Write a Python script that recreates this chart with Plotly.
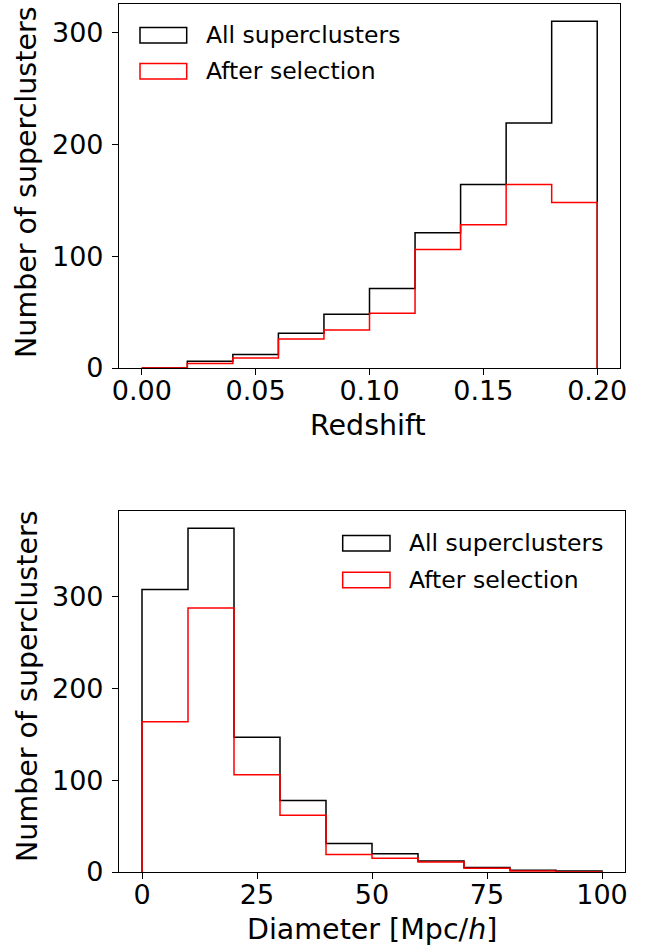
import plotly.graph_objects as go

# ---------------- data ----------------
z_edges = [0.00, 0.02, 0.04, 0.06, 0.08, 0.10, 0.12, 0.14, 0.16, 0.18, 0.20]
z_all = [0, 6, 12, 31, 48, 71, 121, 164, 219, 310]
z_sel = [0, 4, 9, 26, 34, 49, 106, 128, 164, 148]

d_edges = [0, 10, 20, 30, 40, 50, 60, 70, 80, 90, 100]
d_all = [308, 375, 147, 78, 31, 20, 12, 5, 2, 1]
d_sel = [164, 288, 106, 62, 19, 15, 11, 4, 1, 0]

z_ticks = [0.00, 0.05, 0.10, 0.15, 0.20]
d_ticks = [0, 25, 50, 75, 100]
y_ticks = [0, 100, 200, 300]

series_names = ["All superclusters", "After selection"]
series_colors = ["#000000", "#ff0000"]

W, H = 651, 952
FONT = "DejaVu Sans"


def px(x):
    return x / W


def py(y):
    return 1 - y / H


def step_xy(edges, counts):
    xs = [edges[0]] + list(edges) + [edges[-1]]
    ys = [0] + list(counts) + [counts[-1], 0]
    return xs, ys


fig = go.Figure()

panels = [
    ("x", "y", z_edges, [z_all, z_sel]),
    ("x2", "y2", d_edges, [d_all, d_sel]),
]
for xa, ya, edges, sets in panels:
    for counts, name, col in zip(sets, series_names, series_colors):
        xs, ys = step_xy(edges, counts)
        fig.add_trace(go.Scatter(
            x=xs, y=ys, mode="lines", line=dict(color=col, width=1.5, shape="hv"),
            name=name, showlegend=False, xaxis=xa, yaxis=ya, hoverinfo="skip"))

axis_common = dict(
    showline=True, linecolor="black", linewidth=1.2, mirror=True,
    ticks="outside", ticklen=6, tickwidth=1.2, tickcolor="black",
    showgrid=False, zeroline=False, automargin=False,
    tickfont=dict(family=FONT, size=27, color="black"),
)

top_max = max(z_all) * 1.05
bot_max = max(d_all) * 1.05

fig.update_layout(
    width=W, height=H,
    margin=dict(l=0, r=0, t=0, b=0, autoexpand=False),
    paper_bgcolor="white", plot_bgcolor="white",
    showlegend=False,
    xaxis=dict(domain=[px(119), px(620)], range=[-0.01, 0.21],
               tickvals=z_ticks, ticktext=[f"{v:.2f}" for v in z_ticks],
               anchor="y", ticklabelstandoff=-8, **axis_common),
    yaxis=dict(domain=[py(368), py(4)], range=[0, top_max],
               tickvals=y_ticks, anchor="x", ticklabelstandoff=3, **axis_common),
    xaxis2=dict(domain=[px(119), px(625)], range=[-5, 105],
                tickvals=d_ticks, anchor="y2", ticklabelstandoff=-8, **axis_common),
    yaxis2=dict(domain=[py(872), py(511)], range=[0, bot_max],
                tickvals=y_ticks, anchor="x2", ticklabelstandoff=3, **axis_common),
)

title_font = dict(family=FONT, size=28.5, color="black")
annotations = [
    dict(text="Redshift", x=px(368), y=py(426), xanchor="center", yanchor="middle",
         font=title_font),
    dict(text="Diameter [Mpc/<i>h</i>]", x=px(372), y=py(929), xanchor="center",
         yanchor="middle", font=title_font),
    dict(text="Number of superclusters", x=px(27), y=py(183), textangle=-90,
         xanchor="center", yanchor="middle", font=title_font),
    dict(text="Number of superclusters", x=px(27), y=py(687), textangle=-90,
         xanchor="center", yanchor="middle", font=title_font),
]

shapes = []
legend_font = dict(family=FONT, size=23.5, color="black")
legends = [
    # (box x0, box x1, text x, [row centres])
    (140, 186.7, 204, [35.2, 71.3]),
    (342.7, 390, 407, [543.3, 580.0]),
]
for bx0, bx1, tx, rows in legends:
    for yc, name, col in zip(rows, series_names, series_colors):
        shapes.append(dict(type="rect", xref="paper", yref="paper",
                           x0=px(bx0), x1=px(bx1), y0=py(yc - 7.7), y1=py(yc + 7.7),
                           line=dict(color=col, width=1.5), fillcolor="rgba(0,0,0,0)"))
        annotations.append(dict(text=name, x=px(tx), y=py(yc), xanchor="left",
                                yanchor="middle", font=legend_font))

for a in annotations:
    a.update(xref="paper", yref="paper", showarrow=False)

fig.update_layout(annotations=annotations, shapes=shapes)

fig.write_html(
    "out.html",
    config={"displayModeBar": False},
    post_script="document.body.style.margin='0';document.body.style.overflow='hidden';",
)
